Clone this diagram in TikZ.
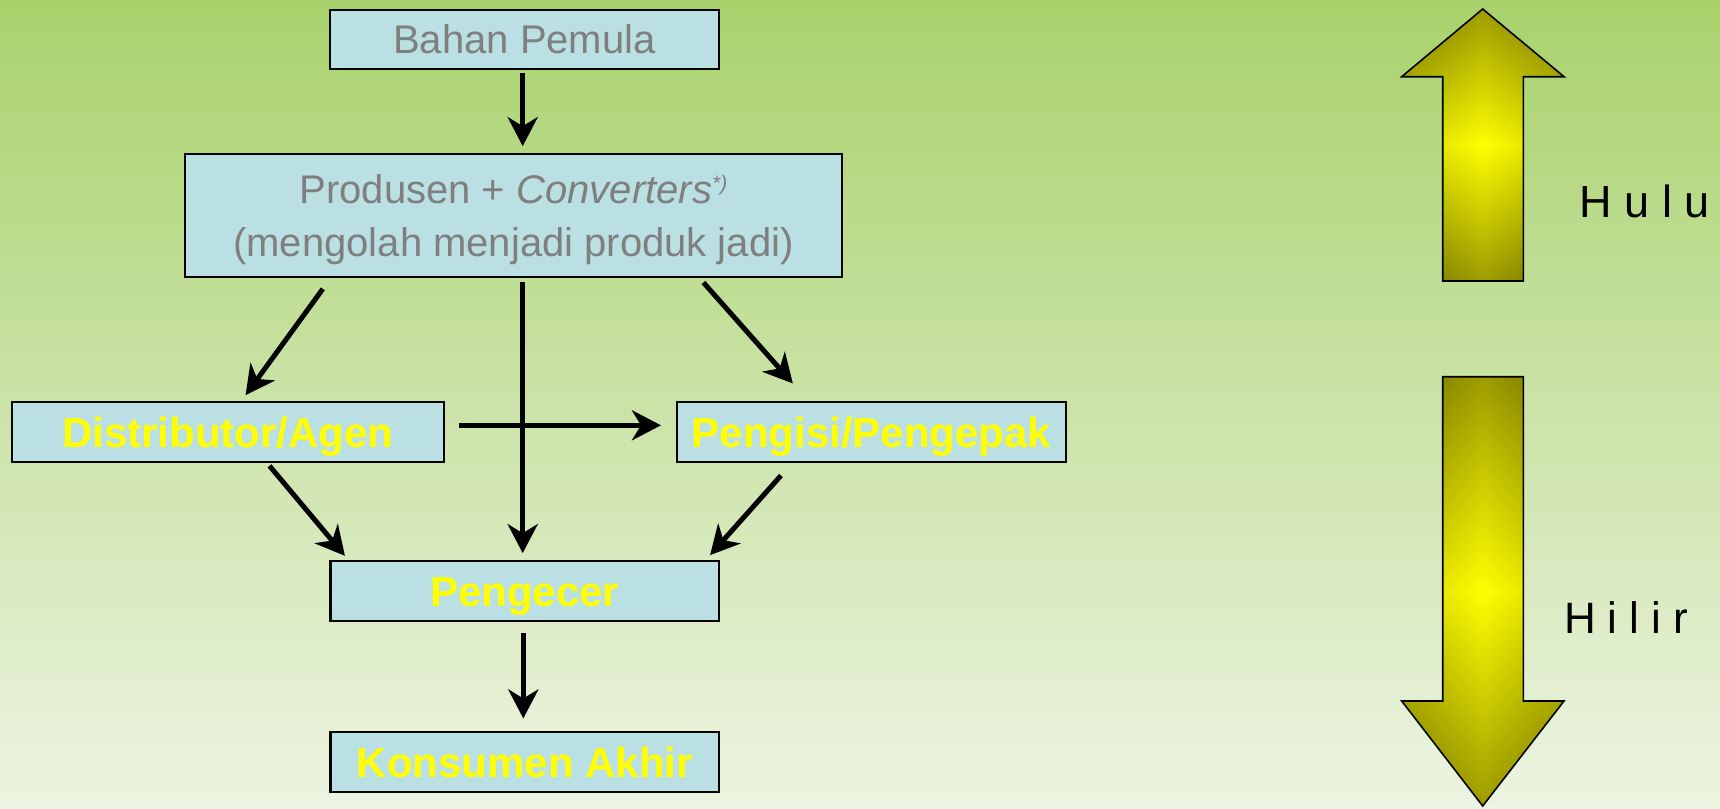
\documentclass[tikz,border=0pt]{standalone}
\usepackage{fontspec}
\setmainfont{Liberation Sans}
\newfontfamily\sidefont{Liberation Sans}
\usetikzlibrary{arrows.meta,calc}
\definecolor{bgtop}{HTML}{A8D26C}
\definecolor{bgbot}{HTML}{EDF4E2}
\definecolor{boxfill}{HTML}{BBE0E3}
\definecolor{graytxt}{HTML}{7F7F7F}
\definecolor{ytxt}{HTML}{FFFF00}
\definecolor{bigdark}{HTML}{747200}
\definecolor{bigyellow}{HTML}{FFFF00}
\begin{document}
\begin{tikzpicture}[x=1pt,y=-1pt,
  box/.style={draw=black, line width=2.2pt, fill=boxfill, inner sep=0pt,
    minimum width=388.5pt, minimum height=59.5pt},
  graylbl/.style={text=graytxt, font=\fontsize{40}{52.7}\selectfont, text depth=0pt},
  ylbl/.style={text=ytxt, font=\fontsize{42}{50}\selectfont\bfseries, text height=30pt, text depth=0pt},
  arr/.style={line width=5pt, -{Stealth[length=29pt,width=30pt,inset=9pt]}},
  vshade/.style={top color=bigdark, bottom color=bigdark, middle color=bigyellow},
  hshade/.style={left color=bigdark, right color=bigdark, middle color=bigyellow, fill opacity=0.3},
  bigborder/.style={draw=black, line width=1.6pt, line join=miter},
  sidelbl/.style={anchor=base west, inner sep=0pt, text=black}
]
% background
\shade[top color=bgtop, bottom color=bgbot] (0,0) rectangle (1720,808);
\useasboundingbox (0,0) rectangle (1720,808);

% boxes
\node[box, graylbl, text height=28.6pt] (bahan) at (524.5,39.5) {Bahan Pemula};
\node[box, graylbl, minimum width=656.5pt, minimum height=122.5pt, align=center] (prod) at (513.5,215.5)
  {Produsen + \textit{Converters\raisebox{13pt}{\fontsize{21}{21}\selectfont *)}}\\(mengolah menjadi produk jadi)};
\node[box, ylbl, minimum width=432pt] (dist) at (227.7,432) {Distributor/Agen};
\node[box, ylbl] (peng) at (871.5,432) {Pengisi/Pengepak};
\node[box, ylbl] (ecer) at (524.7,591) {Pengecer};
\node[box, ylbl] (kons) at (524.7,762) {Konsumen Akhir};

% connectors
\draw[arr] ($(bahan.south)+(-1.8,3)$) -- ($(bahan.south |- prod.north)+(-1.8,-7)$);
\draw[arr] ($(prod.south west)+(138.7,11)$) -- ($(dist.north west)+(235,-6)$);
\draw[arr] ($(ecer.north |- prod.south)+(-2,4)$) -- ($(ecer.north)+(-2,-7)$);
\draw[arr] ($(prod.south east)+(-139.4,4.7)$) -- ($(peng.north west)+(116.7,-17.7)$);
\draw[arr] ($(dist.east)+(14.5,-6.7)$) -- ($(peng.west)+(-15.2,-6.7)$);
\draw[arr] ($(dist.south west)+(258.9,3)$) -- ($(ecer.north west)+(15.6,-4.3)$);
\draw[arr] ($(peng.south west)+(104.8,12.7)$) -- ($(ecer.north east)+(-10,-5)$);
\draw[arr] ($(ecer.south)+(-1.4,11.3)$) -- ($(kons.north)+(-1.4,-12.7)$);

% big arrows
\shade[vshade] (1482.7,9) -- (1564,76.7) -- (1523.3,76.7) -- (1523.3,281) -- (1442.7,281) -- (1442.7,76.7) -- (1401.7,76.7) -- cycle;
\shade[hshade] (1482.7,9) -- (1564,76.7) -- (1523.3,76.7) -- (1523.3,281) -- (1442.7,281) -- (1442.7,76.7) -- (1401.7,76.7) -- cycle;
\draw[bigborder] (1482.7,9) -- (1564,76.7) -- (1523.3,76.7) -- (1523.3,281) -- (1442.7,281) -- (1442.7,76.7) -- (1401.7,76.7) -- cycle;

\shade[vshade] (1442.7,376.7) -- (1523.3,376.7) -- (1523.3,701) -- (1564,701) -- (1482.7,806) -- (1401.7,701) -- (1442.7,701) -- cycle;
\shade[hshade] (1442.7,376.7) -- (1523.3,376.7) -- (1523.3,701) -- (1564,701) -- (1482.7,806) -- (1401.7,701) -- (1442.7,701) -- cycle;
\draw[bigborder] (1442.7,376.7) -- (1523.3,376.7) -- (1523.3,701) -- (1564,701) -- (1482.7,806) -- (1401.7,701) -- (1442.7,701) -- cycle;

\node[sidelbl, font=\sidefont\fontsize{45}{50}\selectfont] (hulu) at (1579.5,217.3) {\spaceskip=12.5pt\relax H u l u};
\node[sidelbl, font=\sidefont\fontsize{44}{50}\selectfont] (hilir) at (1564,633.3) {\spaceskip=12pt\relax H i l i r};
\end{tikzpicture}
\end{document}
